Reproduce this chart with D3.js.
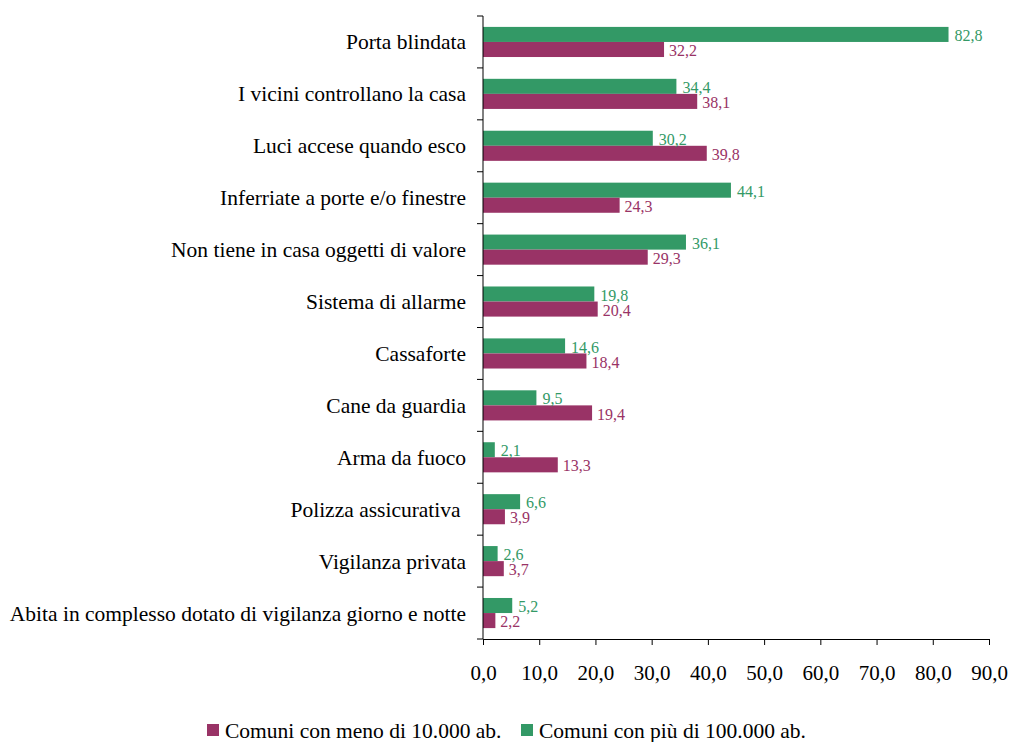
<!DOCTYPE html>
<html><head><meta charset="utf-8">
<script src="https://cdn.jsdelivr.net/npm/d3@7"></script>
<style>body{margin:0;background:#fff}svg{display:block}</style>
</head><body>
<script>
const categories = ["Porta blindata","I vicini controllano la casa","Luci accese quando esco","Inferriate a porte e/o finestre","Non tiene in casa oggetti di valore","Sistema di allarme","Cassaforte","Cane da guardia","Arma da fuoco","Polizza assicurativa ","Vigilanza privata","Abita in complesso dotato di vigilanza giorno e notte"];
const seriesNames = ["Comuni con meno di 10.000 ab.","Comuni con più di 100.000 ab."];
const small = [32.2,38.1,39.8,24.3,29.3,20.4,18.4,19.4,13.3,3.9,3.7,2.2];
const large = [82.8,34.4,30.2,44.1,36.1,19.8,14.6,9.5,2.1,6.6,2.6,5.2];
const xTicks = [0,10,20,30,40,50,60,70,80,90];
const colors = ["#993366","#339966"];

const W=1012,H=742;
const m={left:483,right:23,top:16,bottom:103};
const FF="'Liberation Serif','Times New Roman',serif";
const svg=d3.select("body").append("svg").attr("width",W).attr("height",H)
  .style("font-family",FF);
const x=d3.scaleLinear().domain([0,90]).range([m.left,W-m.right]);
const y=d3.scaleBand().domain(categories).range([m.top,H-m.bottom]).paddingInner(0.42).paddingOuter(0.21);
const fmt=v=>v.toFixed(1).replace(".",",");

// bars
const bh=y.bandwidth()/2;
const g=svg.append("g");
categories.forEach((c,i)=>{
  const y0=y(c);
  g.append("rect").attr("x",x(0)).attr("y",y0).attr("width",x(large[i])-x(0)).attr("height",bh).attr("fill",colors[1]);
  g.append("rect").attr("x",x(0)).attr("y",y0+bh).attr("width",x(small[i])-x(0)).attr("height",bh).attr("fill",colors[0]);
  g.append("text").attr("x",x(large[i])+6).attr("y",y0+bh/2+1).attr("dy","0.35em").attr("fill",colors[1]).style("font-size","16px").text(fmt(large[i]));
  g.append("text").attr("x",x(small[i])+5).attr("y",y0+bh*1.5+1).attr("dy","0.35em").attr("fill",colors[0]).style("font-size","16px").text(fmt(small[i]));
});

// y axis
const yAxis=svg.append("g");
yAxis.append("line").attr("x1",x(0)).attr("x2",x(0)).attr("y1",m.top).attr("y2",H-m.bottom).attr("stroke","#000");
d3.range(categories.length+1).forEach(k=>{
  const yy=m.top+k*(H-m.bottom-m.top)/categories.length;
  yAxis.append("line").attr("x1",x(0)-6).attr("x2",x(0)).attr("y1",yy).attr("y2",yy).attr("stroke","#000");
});
categories.forEach(c=>{
  yAxis.append("text").attr("x",x(0)-17).attr("y",y(c)+y.bandwidth()/2).attr("dy","0.35em")
    .attr("text-anchor","end").style("font-size","21.5px").style("white-space","pre").attr("fill","#000").text(c);
});

// x axis
const xAxis=svg.append("g").attr("transform",`translate(0,${H-m.bottom})`)
  .call(d3.axisBottom(x).tickValues(xTicks).tickFormat(fmt).tickSizeOuter(0).tickSize(6).tickPadding(20));
xAxis.select(".domain").attr("stroke","#000");
xAxis.selectAll(".tick line").attr("stroke","#000");
xAxis.selectAll("text").style("font-size","21px").style("font-family",FF).attr("fill","#000");

// legend
const leg=svg.append("g");
const legX=[207,521];
seriesNames.forEach((s,i)=>{
  leg.append("rect").attr("x",legX[i]).attr("y",724).attr("width",12).attr("height",12).attr("fill",colors[i]);
  leg.append("text").attr("x",legX[i]+18).attr("y",730).attr("dy","0.35em").style("font-size","21.5px").attr("fill","#000").text(s);
});
</script>
</body></html>
